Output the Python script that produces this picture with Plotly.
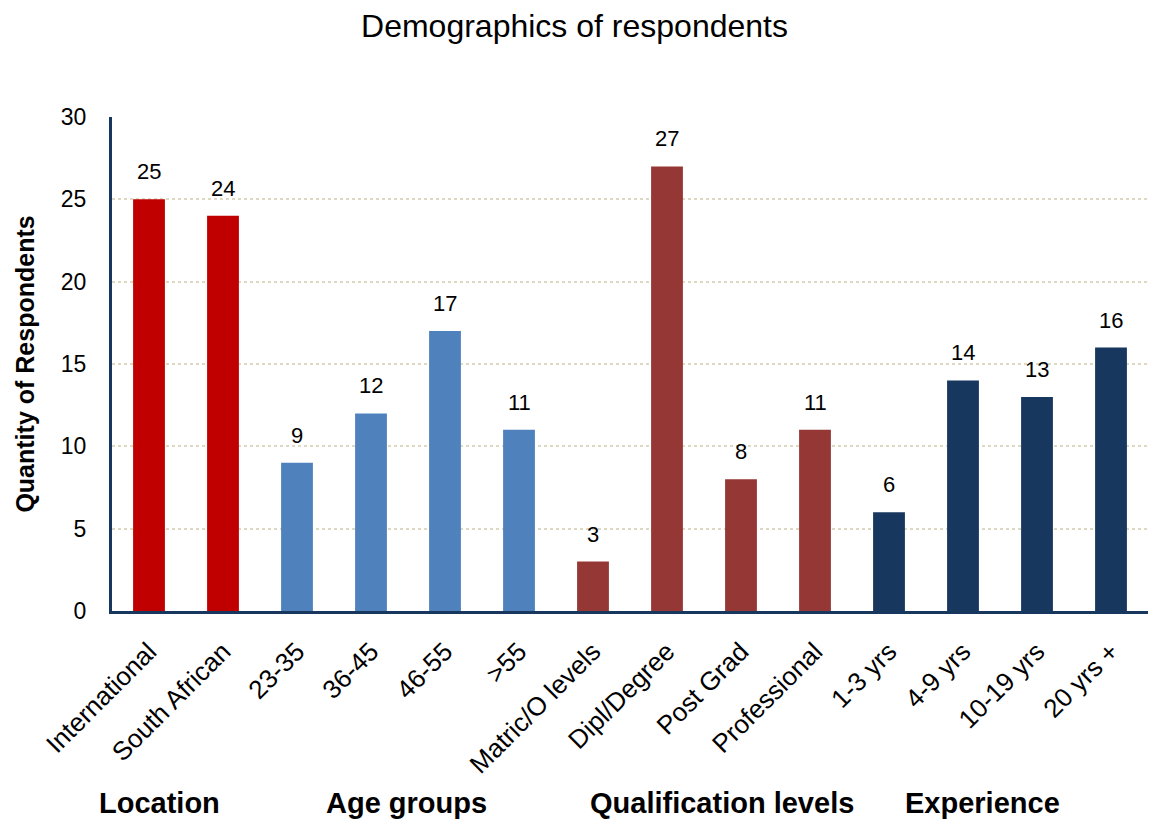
import plotly.graph_objects as go

categories = ["International", "South African", "23-35", "36-45", "46-55", ">55",
              "Matric/O levels", "Dipl/Degree", "Post Grad", "Professional",
              "1-3 yrs", "4-9 yrs", "10-19 yrs", "20 yrs +"]
values = [25, 24, 9, 12, 17, 11, 3, 27, 8, 11, 6, 14, 13, 16]
groups = ["Location", "Location", "Age groups", "Age groups", "Age groups", "Age groups",
          "Qualification levels", "Qualification levels", "Qualification levels", "Qualification levels",
          "Experience", "Experience", "Experience", "Experience"]
group_names = ["Location", "Age groups", "Qualification levels", "Experience"]
group_colors = {"Location": "#C00000", "Age groups": "#4F81BD",
                "Qualification levels": "#953735", "Experience": "#17375E"}
group_label_x = [0.0463, 0.2847, 0.5888, 0.8407]

FONT = "Liberation Sans, Arial, sans-serif"

fig = go.Figure()
fig.add_trace(go.Bar(
    x=categories, y=values,
    marker=dict(color=[group_colors[g] for g in groups], line=dict(width=0)),
    hoverinfo="x+y",
))

for c, v in zip(categories, values):
    fig.add_annotation(x=c, y=v, xref="x", yref="y", text=str(v), showarrow=False,
                       yanchor="bottom", yshift=13, font=dict(size=22, color="black", family=FONT))

for name, gx in zip(group_names, group_label_x):
    fig.add_annotation(x=gx, y=-0.3887, xref="paper", yref="paper", text="<b>%s</b>" % name,
                       showarrow=False, xanchor="center", yanchor="middle",
                       font=dict(size=29, color="black", family=FONT))

fig.update_layout(
    width=1149, height=820,
    margin=dict(l=112, r=1, t=117, b=209, autoexpand=False),
    paper_bgcolor="white", plot_bgcolor="white",
    bargap=0.57,
    showlegend=False,
    font=dict(family=FONT, color="black"),
    title=dict(text="Demographics of respondents", x=0.5, xanchor="center",
               y=1 - 26 / 820, yanchor="middle", yref="container",
               font=dict(size=32, color="black", family=FONT)),
)
fig.update_xaxes(
    type="category", tickangle=-45, tickfont=dict(size=26, family=FONT, color="black"),
    showline=True, linecolor="#17375E", linewidth=3, showgrid=False, ticks="",
    ticklabelstandoff=12, automargin=False,
)
fig.update_yaxes(
    range=[0, 30], dtick=5, tickfont=dict(size=23, family=FONT, color="black"),
    showline=True, linecolor="#17375E", linewidth=3,
    showgrid=True, gridcolor="#DDD9C3", gridwidth=2, griddash="dot",
    zeroline=False, ticks="", ticklabelstandoff=18, automargin=False,
    title=dict(text="<b>Quantity of Respondents</b>", font=dict(size=25, family=FONT, color="black"),
               standoff=20),
)

fig.write_html("out.html")
